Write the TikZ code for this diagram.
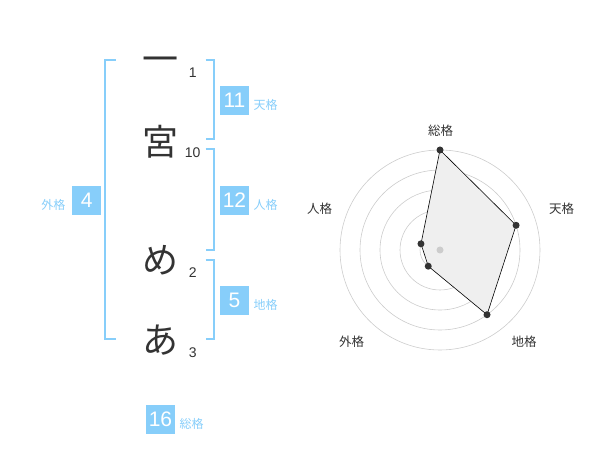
\documentclass[tikz,border=0pt]{standalone}
\usepackage{fontspec}
\setmainfont{Liberation Sans}
\newfontfamily\jp{Noto Sans CJK JP}
\definecolor{sky}{HTML}{87CEFA}
\definecolor{ink}{HTML}{333333}
\definecolor{gridc}{HTML}{CCCCCC}
\definecolor{areac}{HTML}{EFEFEF}
\tikzset{
  kanji/.style={font=\jp\fontsize{36}{36}\selectfont, text=ink, inner sep=0pt, anchor=base},
  strokes/.style={font=\fontsize{14}{14}\selectfont, text=ink, inner sep=0pt, anchor=base},
  numbox/.style={fill=sky, text=white, minimum size=29pt, inner sep=0pt, text height=15pt, text depth=0pt, font=\fontsize{21}{21}\selectfont},
  kaku/.style={text=sky, font=\jp\fontsize{12}{12}\selectfont, inner sep=0pt},
  bracketline/.style={draw=sky, line width=2pt},
  gridline/.style={draw=gridc, line width=0.6pt},
  radlabel/.style={text=ink, font=\jp\fontsize{12.5}{12.5}\selectfont, inner sep=0pt},
  dot/.style={circle, fill=ink, inner sep=0pt, minimum size=7pt},
}
\begin{document}
\begin{tikzpicture}[x=1pt,y=-1pt]
\useasboundingbox (0,0) rectangle (600,470);
% characters
\node[kanji] (k1) at (160,72.4) {一};
\node[kanji] (k2) at (160,155.4) {宮};
\node[kanji] (k3) at (160,273.5) {め};
\node[kanji] (k4) at (160,353.7) {あ};
% stroke counts
\node[strokes] (s1) at (192.7,77.3) {1};
\node[strokes] (s2) at (192.7,157.3) {10};
\node[strokes] (s3) at (192.7,277.7) {2};
\node[strokes] (s4) at (192.7,357.7) {3};
% brackets
\draw[bracketline] (115.5,60) -- (105,60) -- (105,339.3) -- (115.5,339.3);
\draw[bracketline] (205.5,60) -- (214.3,60) -- (214.3,139.3) -- (205.5,139.3);
\draw[bracketline] (205.5,149.3) -- (214.3,149.3) -- (214.3,250) -- (205.5,250);
\draw[bracketline] (205.5,260) -- (214.3,260) -- (214.3,339.3) -- (205.5,339.3);
% boxes
\node[numbox] (ten) at (234.5,100.3) {11};
\node[kaku, anchor=west] (tenl) at (253.5,104.5) {天格};
\node[numbox] (jin) at (234.5,200.3) {12};
\node[kaku, anchor=west] (jinl) at (253.5,204.5) {人格};
\node[numbox] (chi) at (234.5,300.3) {5};
\node[kaku, anchor=west] (chil) at (253.5,304.5) {地格};
\node[numbox] (gai) at (86.7,200.3) {4};
\node[kaku, anchor=east] (gail) at (65.5,204.5) {外格};
\node[numbox] (sou) at (160.5,419.3) {16};
\node[kaku, anchor=west] (soul) at (179.5,423.5) {総格};
% radar
\coordinate (C) at (440,250);
\foreach \r in {20,40,60,80,100} \draw[gridline] (C) circle[radius=\r pt];
\coordinate (pS) at ([shift={(90:100pt)}]C);
\coordinate (pT) at ([shift={(18:80pt)}]C);
\coordinate (pC) at ([shift={(-54:80pt)}]C);
\coordinate (pG) at ([shift={(-126:20pt)}]C);
\coordinate (pJ) at ([shift={(162:20pt)}]C);
\filldraw[fill=areac, draw=black, line width=0.6pt] (pS) -- (pT) -- (pC) -- (pG) -- (pJ) -- cycle;
\node[circle, fill=gridc, inner sep=0pt, minimum size=7pt] (cd) at (C) {};
\foreach \p in {pS,pT,pC,pG,pJ} \node[dot] at (\p) {};
\node[radlabel] (lS) at (440.7,130.8) {総格};
\node[radlabel] (lT) at (561.7,208.5) {天格};
\node[radlabel] (lC) at (524,342) {地格};
\node[radlabel] (lG) at (351.7,342) {外格};
\node[radlabel] (lJ) at (319.5,208.5) {人格};
\end{tikzpicture}
\end{document}
